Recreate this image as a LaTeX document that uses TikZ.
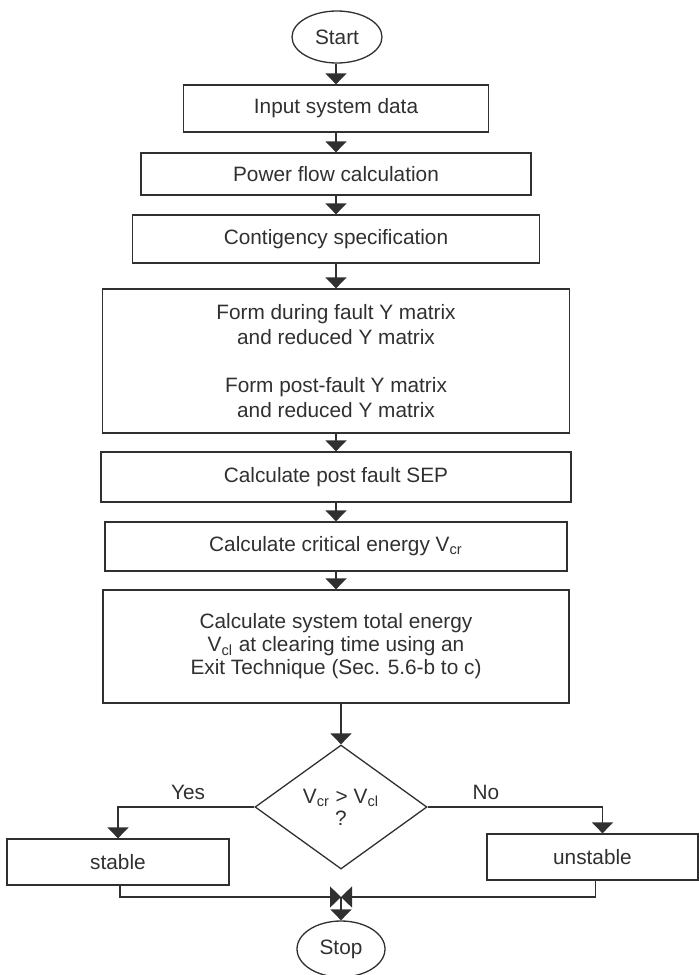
\documentclass[tikz,border=0pt]{standalone}
\usepackage{fontspec}
\setmainfont{Liberation Sans}
\usetikzlibrary{shapes.geometric,arrows.meta}
\definecolor{ink}{HTML}{303030}
\begin{document}
\begin{tikzpicture}[x=0.5pt,y=-0.5pt,
  every node/.style={font=\fontsize{10.4}{12.5}\selectfont, text=ink},
  box/.style={draw=ink, line width=0.65pt, inner sep=0pt, align=center},
  term/.style={draw=ink, ellipse, line width=0.65pt, inner sep=0pt},
  arr/.style={draw=ink, line width=0.65pt, -{Triangle[width=10.5pt,length=5.5pt]}},
  lbl/.style={inner sep=1pt}]
\useasboundingbox (0,0) rectangle (699,975);
\node[term, minimum width=45pt, minimum height=26pt] (start) at (337,37) {Start};
\node[box, minimum width=152.5pt, minimum height=23.5pt] (b1) at (336,108.5) {Input system data};
\node[box, minimum width=195pt, minimum height=21pt] (b2) at (336,174) {Power flow calculation};
\node[box, minimum width=203.5pt, minimum height=24pt] (b3) at (336,239) {Contigency specification};
\node[box, minimum width=233.5pt, minimum height=72pt] (b4) at (336,361) {Form during fault Y matrix\\and reduced Y matrix\\[11.5pt]Form post-fault Y matrix\\and reduced Y matrix};
\node[box, minimum width=235pt, minimum height=25pt] (b5) at (336,477) {Calculate post fault SEP};
\node[box, minimum width=231pt, minimum height=24.5pt] (b6) at (336,546.5) {Calculate critical energy V\textsubscript{cr}};
\node[box, minimum width=233pt, minimum height=56.5pt, font=\fontsize{10.4}{11.5}\selectfont] (b7) at (336,646.5) {Calculate system total energy\\V\textsubscript{cl} at clearing time using an\\Exit Technique (Sec. 5.6-b to c)};
\node[diamond, draw=ink, line width=0.65pt, aspect=1.4, inner sep=0pt, minimum width=86pt, minimum height=62pt, align=center, font=\fontsize{10.4}{11}\selectfont] (dec) at (341,807) {V\textsubscript{cr} > V\textsubscript{cl}\\?};
\node[box, minimum width=111pt, minimum height=23pt] (stable) at (118,862) {stable};
\node[box, minimum width=105.5pt, minimum height=23pt] (unstable) at (592.5,857) {unstable};
\node[term, minimum width=44pt, minimum height=28pt] (stop) at (341,949) {Stop};
\coordinate (J) at (341,897);
\node[lbl] (yes) at (188,792) {Yes};
\node[lbl] (no) at (486,792) {No};
\draw[arr] (start.south -| b1.north) -- (b1.north);
\draw[arr] (b1.south) -- (b2.north);
\draw[arr] (b2.south) -- (b3.north);
\draw[arr] (b3.south) -- (b4.north);
\draw[arr] (b4.south) -- (b5.north);
\draw[arr] (b5.south) -- (b6.north);
\draw[arr] (b6.south) -- (b7.north);
\draw[arr] (b7.south -| dec.north) -- (dec.north);
\draw[arr] (dec.west) -| (stable.north);
\draw[arr] (dec.east) -| ([xshift=5pt]unstable.north);
\draw[arr] ([xshift=1pt]stable.south) |- (J);
\draw[arr] ([xshift=1.5pt]unstable.south) |- (J);
\draw[arr] (J) -- (stop.north);
\end{tikzpicture}
\end{document}
